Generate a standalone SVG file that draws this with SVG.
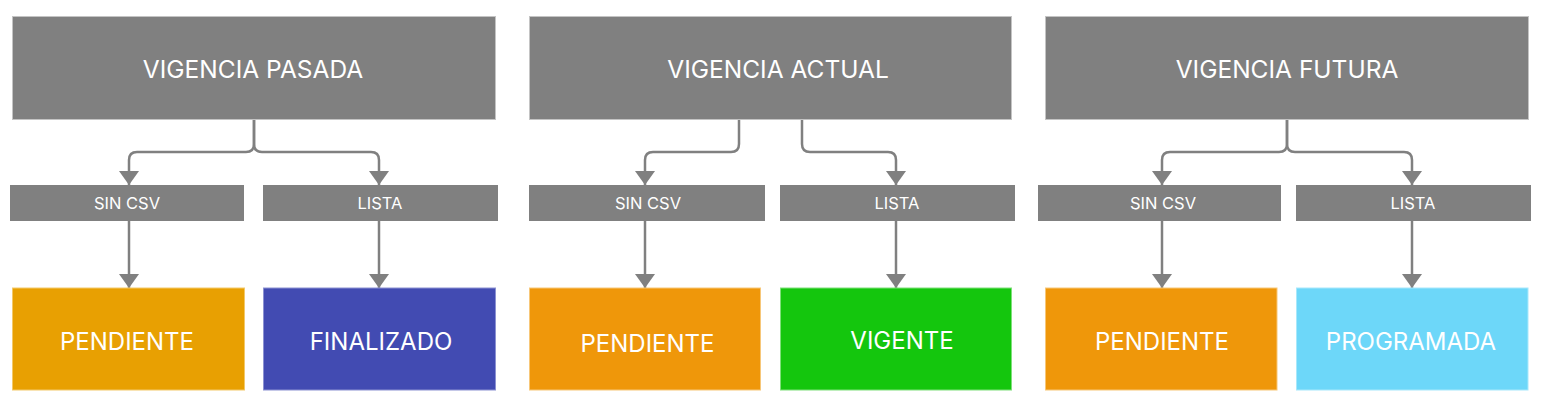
<svg xmlns="http://www.w3.org/2000/svg" width="1546" height="416" viewBox="0 0 1546 416">
<defs>
<style>
.top{fill:#808080;stroke:#c4c4c4;stroke-width:1}
.mid{fill:#808080}
.t{font-family:Inter,"Open Sans","DejaVu Sans",sans-serif;fill:#ffffff;text-anchor:middle;font-weight:400}
.tt{font-size:24.5px}
.tm{font-size:16.5px}
.tb{font-size:24px}
.c{fill:none;stroke:#808080;stroke-width:2.5;marker-end:url(#ah)}
</style>
<marker id="ah" markerUnits="userSpaceOnUse" markerWidth="20" markerHeight="14" viewBox="0 0 20 14" refX="10" refY="14" orient="0">
<path d="M0,0 L20,0 L10,14 Z" fill="#808080"/>
</marker>
</defs>
<rect width="1546" height="416" fill="#ffffff"/>
<g id="connectors">
<path class="c" d="M254,120 V144 Q254,152 246,152 H137 Q129,152 129,160 V185"/>
<path class="c" d="M254,120 V144 Q254,152 262,152 H371 Q379,152 379,160 V185"/>
<path class="c" d="M129,221 V288"/>
<path class="c" d="M379,221 V288"/>
<path class="c" d="M739,120 V144 Q739,152 731,152 H653 Q645,152 645,160 V185"/>
<path class="c" d="M802,120 V144 Q802,152 810,152 H888 Q896,152 896,160 V185"/>
<path class="c" d="M645,221 V288"/>
<path class="c" d="M896,221 V288"/>
<path class="c" d="M1287,120 V144 Q1287,152 1279,152 H1170 Q1162,152 1162,160 V185"/>
<path class="c" d="M1287,120 V144 Q1287,152 1295,152 H1404 Q1412,152 1412,160 V185"/>
<path class="c" d="M1162,221 V288"/>
<path class="c" d="M1412,221 V288"/>
</g>
<g id="vigencia-pasada"><rect class="top" x="12.5" y="16.5" width="483" height="103"/><text class="t tt" x="253" y="78">VIGENCIA PASADA</text></g>
<g id="vigencia-actual"><rect class="top" x="529.5" y="16.5" width="482" height="103"/><text class="t tt" x="778" y="78">VIGENCIA ACTUAL</text></g>
<g id="vigencia-futura"><rect class="top" x="1045.5" y="16.5" width="483" height="103"/><text class="t tt" x="1287" y="78">VIGENCIA FUTURA</text></g>
<g id="sincsv-1"><rect class="mid" x="10" y="185" width="234" height="36"/><text class="t tm" x="127" y="209">SIN CSV</text></g>
<g id="lista-1"><rect class="mid" x="263" y="185" width="235" height="36"/><text class="t tm" x="380" y="209">LISTA</text></g>
<g id="sincsv-2"><rect class="mid" x="529" y="185" width="236" height="36"/><text class="t tm" x="648" y="209">SIN CSV</text></g>
<g id="lista-2"><rect class="mid" x="780" y="185" width="235" height="36"/><text class="t tm" x="897" y="209">LISTA</text></g>
<g id="sincsv-3"><rect class="mid" x="1038" y="185" width="243" height="36"/><text class="t tm" x="1163" y="209">SIN CSV</text></g>
<g id="lista-3"><rect class="mid" x="1296" y="185" width="235" height="36"/><text class="t tm" x="1413" y="209">LISTA</text></g>
<g id="pendiente-1"><rect x="12.5" y="288" width="232" height="102" fill="#E8A002" stroke="#f3c96a" stroke-width="1"/><text class="t tb" x="127" y="350">PENDIENTE</text></g>
<g id="finalizado"><rect x="263.5" y="288" width="232" height="102" fill="#424BB2" stroke="#8c92d2" stroke-width="1"/><text class="t tb" x="381" y="350">FINALIZADO</text></g>
<g id="pendiente-2"><rect x="529.5" y="288" width="231" height="102" fill="#EF970A" stroke="#f7c779" stroke-width="1"/><text class="t tb" x="647.5" y="352">PENDIENTE</text></g>
<g id="vigente"><rect x="780.5" y="288" width="231" height="102" fill="#14C60D" stroke="#7fe07a" stroke-width="1"/><text class="t tb" x="902" y="349">VIGENTE</text></g>
<g id="pendiente-3"><rect x="1045.5" y="288" width="231.5" height="102" fill="#EF970A" stroke="#f7c779" stroke-width="1"/><text class="t tb" x="1162" y="350">PENDIENTE</text></g>
<g id="programada"><rect x="1296.5" y="288" width="231.5" height="102" fill="#6DD7F9" stroke="#a8e8fb" stroke-width="1"/><text class="t tb" x="1411" y="350">PROGRAMADA</text></g>
</svg>
